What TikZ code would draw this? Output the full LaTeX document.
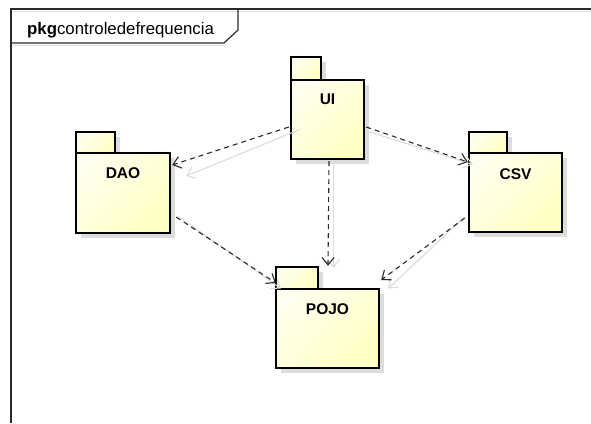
\documentclass[tikz,border=0pt]{standalone}
\usepackage{fontspec}
\setmainfont{Liberation Sans}
\usetikzlibrary{arrows.meta,calc}
\definecolor{pkgfill}{HTML}{FFFFC4}
\definecolor{pkglight}{HTML}{FFFFEE}
\definecolor{shadowgray}{HTML}{DCDCDC}
\definecolor{framecol}{HTML}{2A2A2A}
\tikzset{
  pkgbody/.style={draw=black, line width=2.4pt, left color=pkglight, right color=pkgfill, shading angle=45, inner sep=0pt},
  pkgtab/.style={draw=black, line width=2.4pt, left color=pkglight, right color=pkgfill, shading angle=45, inner sep=0pt},
  pkglabel/.style={anchor=base, inner sep=0pt, font=\fontsize{15.5}{15.5}\selectfont\bfseries},
  dep/.style={draw=framecol, line width=1.1pt, dash pattern=on 5pt off 4pt, -{Straight Barb[length=7.5pt,width=12pt,line width=1.1pt]}},
  depshadow/.style={draw=shadowgray, line width=1.1pt, -{Straight Barb[length=7.5pt,width=12pt,line width=1.1pt]}},
}
\begin{document}
\begin{tikzpicture}[x=1pt,y=-1pt]
\useasboundingbox (0,0) rectangle (591,423);
\fill[white] (0,0) rectangle (591,423);
% frame
\draw[shadowgray, line width=1pt] (13,11) -- (591,11);
\draw[shadowgray, line width=1pt] (13,45) -- (224,45);
\draw[framecol, line width=1.2pt] (11,423) -- (11,9) -- (591,9);
\draw[framecol, line width=1.2pt] (238,9) -- (238,30) -- (224,43) -- (11,43);
\node[anchor=base west, inner sep=0pt, font=\fontsize{16.8}{16.8}\selectfont] (title) at (27,34) {\textbf{pkg}controledefrequencia};

% shadows of packages
\fill[shadowgray] (296,62) rectangle (326,85);
\fill[shadowgray] (296,85) rectangle (369,164);
\fill[shadowgray] (81,137) rectangle (120,158);
\fill[shadowgray] (81,158) rectangle (175,238);
\fill[shadowgray] (281,272) rectangle (323,294);
\fill[shadowgray] (281,294) rectangle (384,373);
\fill[shadowgray] (474,137) rectangle (512,158);
\fill[shadowgray] (474,158) rectangle (567,237);

% packages
\node[pkgtab, minimum width=30pt, minimum height=23pt] (uitab) at (306,68.5) {};
\node[pkgbody, minimum width=73pt, minimum height=79pt] (ui) at (327.5,119.5) {};
\node[pkglabel] (uilbl) at (327.5,104.5) {UI};

\node[pkgtab, minimum width=39pt, minimum height=21pt] (daotab) at (95.5,142.5) {};
\node[pkgbody, minimum width=94pt, minimum height=80pt] (dao) at (123,193) {};
\node[pkglabel] (daolbl) at (123,178.5) {DAO};

\node[pkgtab, minimum width=42pt, minimum height=22pt] (pojotab) at (297,278) {};
\node[pkgbody, minimum width=103pt, minimum height=79pt] (pojo) at (327.5,328.5) {};
\node[pkglabel] (pojolbl) at (327.5,314.5) {POJO};

\node[pkgtab, minimum width=38pt, minimum height=21pt] (csvtab) at (488,142.5) {};
\node[pkgbody, minimum width=93pt, minimum height=79pt] (csv) at (515.5,192.5) {};
\node[pkglabel] (csvlbl) at (515.5,179.5) {CSV};

% dependency shadows
\draw[depshadow] ($(ui.west)+(10,10)$) -- ($(dao.east)+(15,-17)$);
\draw[depshadow] ($(ui.south)+(6,0)$) -- ($(pojo.north)+(6,-20)$);
\draw[depshadow] ($(ui.east)+(3,12)$) -- ($(csv.west)+(5,-28)$);
\draw[depshadow] ($(dao.east)+(8,24)$) -- ($(pojo.west)+(6,-40)$);
\draw[depshadow] ($(csv.west)+(-4,25)$) -- ($(pojo.east)+(8,-40)$);

% dependencies
\draw[dep] ($(ui.west)+(-1,7.5)$) -- ($(dao.east)+(1,-28)$);
\draw[dep] ($(ui.south)+(1.5,1)$) -- ($(pojo.north)+(0.5,-22)$);
\draw[dep] ($(ui.east)+(1,7.5)$) -- ($(csv.west)+(0,-30.5)$);
\draw[dep] ($(dao.east)+(5,24)$) -- ($(pojo.west)+(1,-45.5)$);
\draw[dep] ($(csv.west)+(-3,25.5)$) -- ($(pojo.east)+(1,-48.5)$);
\end{tikzpicture}
\end{document}
